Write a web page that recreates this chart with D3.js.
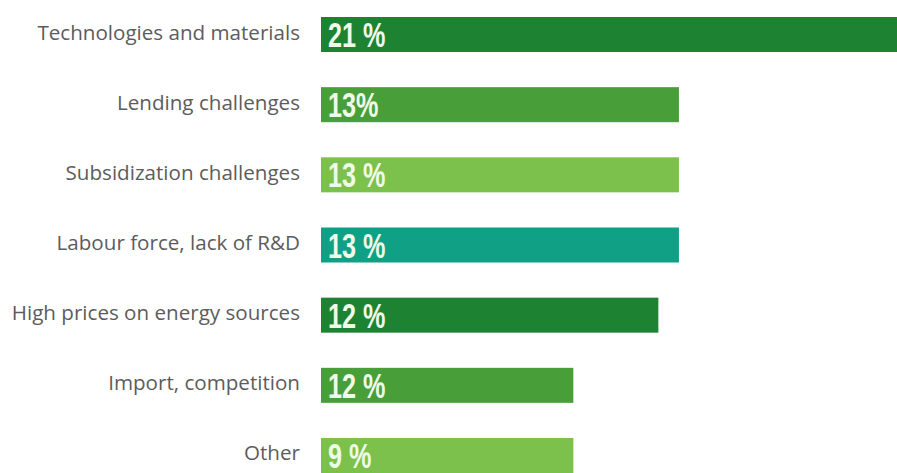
<!DOCTYPE html>
<html>
<head>
<meta charset="utf-8">
<script src="https://cdn.jsdelivr.net/npm/d3@7"></script>
<style>
  html, body { margin: 0; padding: 0; background: #ffffff; }
  svg { display: block; }
</style>
</head>
<body>
<svg id="chart" width="897" height="473"></svg>
<script>
const categories = [
  "Technologies and materials",
  "Lending challenges",
  "Subsidization challenges",
  "Labour force, lack of R&D",
  "High prices on energy sources",
  "Import, competition",
  "Other"
];
// bar lengths (percent units)
const barValues = [21, 13.05, 13.05, 13.05, 12.3, 9.2, 9.2];
// value labels as printed on the bars
const valueLabels = ["21 %", "13%", "13 %", "13 %", "12 %", "12 %", "9 %"];
const barColors = ["#1e8233", "#489f3a", "#7cc14b", "#10a085", "#1e8233", "#489f3a", "#7cc14b"];

const W = 897, H = 473;
const svg = d3.select("#chart");

const x = d3.scaleLinear().domain([0, 21]).range([321, 897]);
const y = d3.scaleBand().domain(categories).range([17, 473]).paddingInner(0.501).paddingOuter(0);

const rows = svg.selectAll("g.row")
  .data(categories.map((c, i) => ({ c, v: barValues[i], label: valueLabels[i], color: barColors[i] })))
  .join("g").attr("class", "row");

rows.append("rect")
  .attr("x", x(0))
  .attr("y", d => y(d.c))
  .attr("width", d => x(d.v) - x(0))
  .attr("height", y.bandwidth())
  .attr("fill", d => d.color);

rows.append("text")
  .attr("x", 300)
  .attr("y", d => y(d.c) + y.bandwidth() / 2 - 3)
  .attr("text-anchor", "end")
  .attr("dominant-baseline", "central")
  .attr("font-family", "'Open Sans', sans-serif")
  .attr("font-size", 20.6)
  .attr("fill", "#5c5c5c")
  .text(d => d.c);

rows.append("text")
  .attr("transform", d => `translate(${x(0) + 7},${y(d.c) + y.bandwidth() - 5}) scale(0.72,1)`)
  .attr("font-family", "'Liberation Sans', Arial, sans-serif")
  .attr("font-weight", "bold")
  .attr("font-size", 35)
  .attr("fill", "#effbe9")
  .text(d => d.label);
</script>
</body>
</html>
